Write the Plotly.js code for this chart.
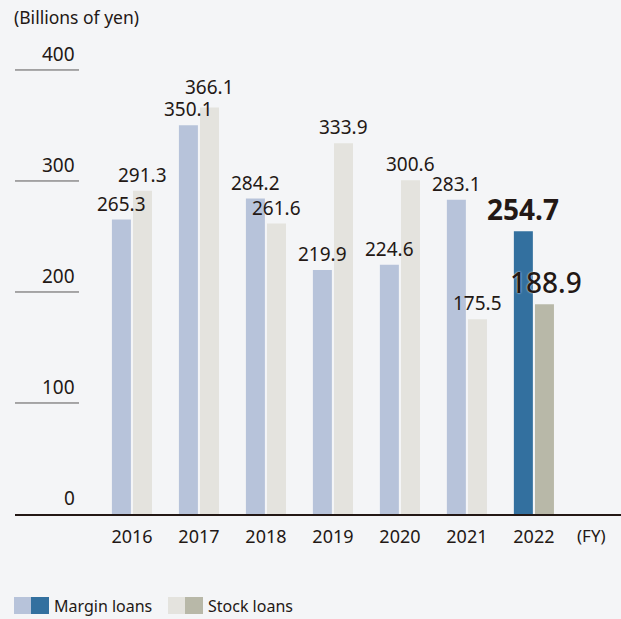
<!DOCTYPE html>
<html>
<head>
<meta charset="utf-8">
<script src="https://cdn.plot.ly/plotly-3.0.1.min.js"></script>
<style>html,body{margin:0;padding:0;background:#f4f5f7;}</style>
</head>
<body>
<div id="chart" style="width:621px;height:619px;"></div>
<script>
var years = ["2016","2017","2018","2019","2020","2021","2022"];
var marginLoans = [265.3, 350.1, 284.2, 219.9, 224.6, 283.1, 254.7];
var stockLoans = [291.3, 366.1, 261.6, 333.9, 300.6, 175.5, 188.9];
var yTicks = [0, 100, 200, 300, 400];
var seriesNames = ["Margin loans", "Stock loans"];
var unitLabel = "(Billions of yen)";
var fyLabel = "(FY)";

var txtColor = "#231815";
var marginLight = "#b7c3da", marginDark = "#33709f";
var stockLight = "#e4e3de", stockDark = "#b8b8a8";
var FONT = "Noto Sans";
var last = years.length - 1;

function colors(light, dark){ return years.map(function(_, i){ return i === last ? dark : light; }); }

var traces = [
  {type: "bar", x: years, y: marginLoans, name: seriesNames[0],
   marker: {color: colors(marginLight, marginDark)}, hoverinfo: "skip"},
  {type: "bar", x: years, y: stockLoans, name: seriesNames[1],
   marker: {color: colors(stockLight, stockDark)}, hoverinfo: "skip"}
];

var plotL = 15, plotR = 621, plotT = 40, plotB = 514;
var pw = plotR - plotL, ph = plotB - plotT;
function px2paperX(px){ return (px - plotL) / pw; }
function px2paperY(py){ return (plotB - py) / ph; }

var shapes = [], annotations = [];

// value labels, drawn over all bars
function addLabels(vals, dx, boldLast){
  vals.forEach(function(v, i){
    var isLast = i === last;
    var extra = 0;
    if (dx > 0 && vals[i] > marginLoans[i] && vals[i] - marginLoans[i] < 25) extra = 5;
    var f = {size: isLast ? 28 : 19, color: txtColor, family: FONT};
    if (isLast && !boldLast) { f.weight = 500; f.shadow = "0px 0px 2px #ffffff"; }
    annotations.push({xref: "x", yref: "y", x: i, y: v, xshift: dx + (isLast && !boldLast ? 2 : 0), yshift: 1 + extra,
      xanchor: "center", yanchor: "bottom", showarrow: false,
      text: (isLast && boldLast) ? "<b>" + v.toFixed(1) + "</b>" : v.toFixed(1),
      font: f});
  });
}
addLabels(marginLoans, -10.5, true);
addLabels(stockLoans, 10.5, false);

yTicks.forEach(function(t){
  if (t > 0) {
    shapes.push({type: "line", xref: "paper", yref: "y", x0: 0, x1: px2paperX(79), y0: t, y1: t,
                 line: {color: "#595757", width: 1}});
  }
  annotations.push({xref: "paper", yref: "y", x: px2paperX(77), y: t, xanchor: "right", yanchor: "bottom",
                    yshift: 1, text: String(t), showarrow: false,
                    font: {size: 19, color: txtColor, family: FONT}});
});
annotations.push({xref: "paper", yref: "paper", x: px2paperX(12), y: px2paperY(17), xanchor: "left", yanchor: "middle",
                  text: unitLabel, showarrow: false, font: {size: 17.5, color: txtColor, family: FONT}});
annotations.push({xref: "paper", yref: "paper", x: px2paperX(591), y: px2paperY(535), xanchor: "center", yanchor: "middle",
                  text: fyLabel, showarrow: false, font: {size: 17, color: txtColor, family: FONT}});

// custom legend
var legendItems = [
  {x: 14, light: marginLight, dark: marginDark, label: seriesNames[0]},
  {x: 168, light: stockLight, dark: stockDark, label: seriesNames[1]}
];
legendItems.forEach(function(it){
  shapes.push({type: "rect", xref: "paper", yref: "paper", x0: px2paperX(it.x), x1: px2paperX(it.x + 17),
               y0: px2paperY(614), y1: px2paperY(597), fillcolor: it.light, line: {width: 0}});
  shapes.push({type: "rect", xref: "paper", yref: "paper", x0: px2paperX(it.x + 17), x1: px2paperX(it.x + 35),
               y0: px2paperY(614), y1: px2paperY(597), fillcolor: it.dark, line: {width: 0}});
  annotations.push({xref: "paper", yref: "paper", x: px2paperX(it.x + 38), y: px2paperY(606), xanchor: "left", yanchor: "middle",
                    text: it.label, showarrow: false, font: {size: 16, color: txtColor, family: FONT}});
});

var layout = {
  width: 621, height: 619,
  margin: {l: plotL, r: 621 - plotR, t: plotT, b: 619 - plotB},
  paper_bgcolor: "#f4f5f7", plot_bgcolor: "#f4f5f7",
  barmode: "group", bargap: 0.37, bargroupgap: 0.1,
  showlegend: false,
  xaxis: {type: "category", range: [-1.746, 7.3], showgrid: false, zeroline: false,
          showline: true, linecolor: txtColor, linewidth: 1.5, ticks: "", ticklabelstandoff: 6,
          tickfont: {size: 18, color: txtColor, family: FONT}, fixedrange: true},
  yaxis: {range: [0, 427], showgrid: false, zeroline: false, showticklabels: false, ticks: "", fixedrange: true},
  shapes: shapes, annotations: annotations,
  font: {family: FONT, color: txtColor}
};

Plotly.newPlot("chart", traces, layout, {displayModeBar: false, staticPlot: true});
</script>
</body>
</html>
